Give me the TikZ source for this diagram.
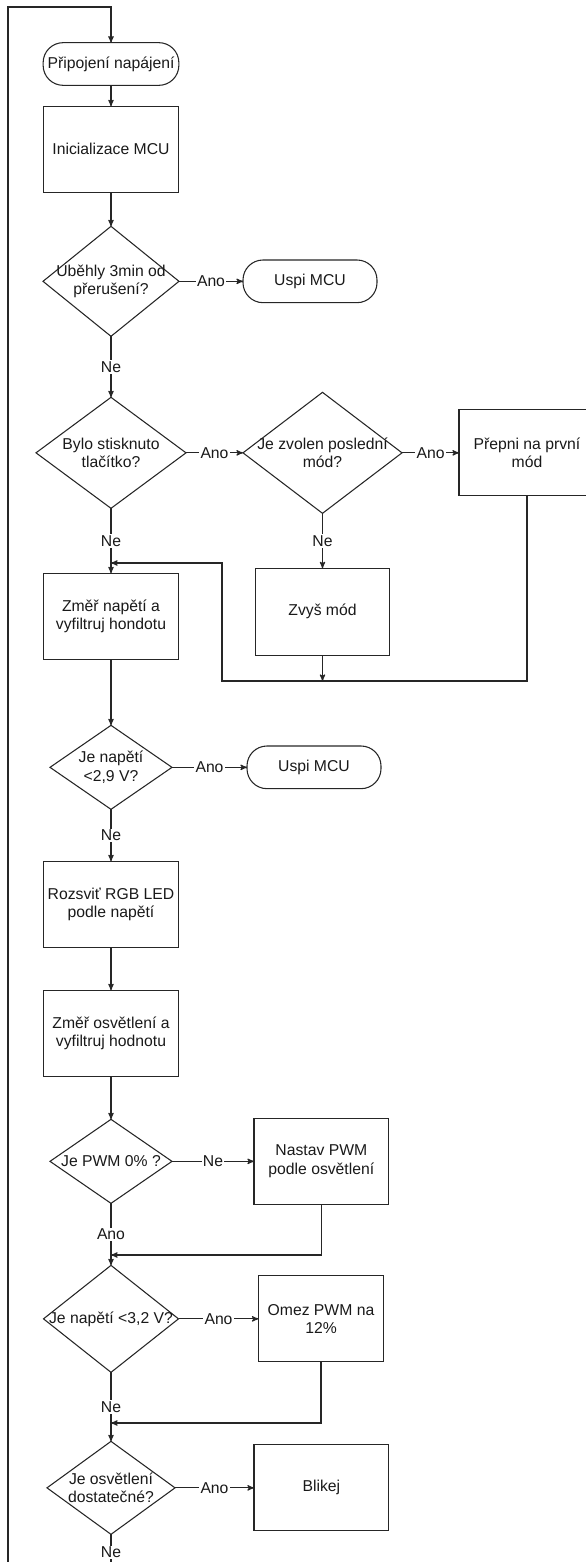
\documentclass[tikz,border=0pt]{standalone}
\usepackage{fontspec}
\setmainfont{Liberation Sans}
\usepackage{tikz}
\usetikzlibrary{arrows}
\usetikzlibrary{positioning,shapes.geometric}
\tikzstyle{terminal} = [rectangle, rounded corners=15pt, minimum width=100.5pt, minimum height=32pt, text centered, outer sep=0pt, draw=black!85]
\tikzstyle{process} = [rectangle, minimum width=101pt, minimum height=64.5pt, text centered, align=center, outer sep=0pt, draw=black!85]
\tikzstyle{decision} = [diamond, inner sep=0pt, outer sep=0pt, draw=black!85]
\tikzstyle{answer} = [fill=white, inner sep=1pt]
\tikzstyle{line} = [draw=black!85, ->, >=stealth']

\begin{document}
\begin{tikzpicture}[x=0.75pt, y=-0.75pt, line width=0.8pt, font=\fontsize{11.8pt}{13.8pt}\selectfont, text=black!90]
\useasboundingbox (0,0) rectangle (585,1562);

% main column
\node (start) [terminal] at (111,64) {Připojení napájení};
\node (init) [process, below=15.75pt of start] {Inicializace MCU};
\node (timeout) [decision, minimum width=102pt, minimum height=82.5pt, below=25.5pt of init,
  label={[align=center]center:{Uběhly 3min od\\přerušení?}}] {};
\node (button) [decision, minimum width=112.5pt, minimum height=83.25pt, below=45.75pt of timeout,
  label={[align=center]center:{Bylo stisknuto\\tlačítko?}}] {};
\node (measV) [process, below=48.75pt of button] {Změř napětí a\\vyfiltruj hondotu};
\node (lowV) [decision, minimum width=91.5pt, minimum height=63pt, below=49.5pt of measV,
  label={[align=center]center:{Je napětí\\<2,9 V?}}] {};
\node (rgb) [process, below=39pt of lowV] {Rozsviť RGB LED\\podle napětí};
\node (measL) [process, below=32.25pt of rgb] {Změř osvětlení a\\vyfiltruj hodnotu};
\node (pwm0) [decision, minimum width=91.5pt, minimum height=63pt, below=32.25pt of measL,
  label={[align=center]center:{Je PWM 0\% ?}}] {};
\node (midV) [decision, minimum width=101.25pt, minimum height=80.25pt, below=46.5pt of pwm0,
  label={[align=center]center:{Je napětí <3,2 V?}}] {};
\node (light) [decision, minimum width=96pt, minimum height=69.75pt, below=51.75pt of midV,
  label={[align=center]center:{Je osvětlení\\dostatečné?}}] {};

% side branches
\node (sleep1) [terminal, right=48pt of timeout] {Uspi MCU};
\node (lastMode) [decision, minimum width=119.25pt, minimum height=90.75pt, right=42.75pt of button,
  label={[align=center]center:{Je zvolen poslední\\mód?}}] {};
\node (firstMode) [process, minimum width=102pt, right=42.75pt of lastMode] {Přepni na první\\mód};
\node (nextMode) [process, minimum height=65.25pt, below=41.25pt of lastMode] {Zvyš mód};
\node (sleep2) [terminal, right=56.25pt of lowV] {Uspi MCU};
\node (setPwm) [process, right=61.5pt of pwm0] {Nastav PWM\\podle osvětlení};
\node (limit) [process, minimum width=93.75pt, right=60pt of midV] {Omez PWM na\\12\%};
\node (blink) [process, right=59.25pt of light] {Blikej};

% helper points
\coordinate (loopTop) at (8,7);
\coordinate (loopBot) at (8,1562);
\coordinate (back1) at (222,681);
\coordinate (back2) at (222,563);
\coordinate (join1) at (measV.north |- back2);
\coordinate (join2) at (midV.north |- 0,1255);
\coordinate (join3) at (light.north |- 0,1423);

% connectors
\draw[line] (loopBot) -- (loopTop) -| (start.north);
\draw[line] (start) -- (init);
\draw[line] (init) -- (timeout);
\draw[line] (timeout) -- node[answer] {Ano} (sleep1);
\draw[line] (timeout) -- node[answer] {Ne} (button);
\draw[line] (button) -- node[answer] {Ano} (lastMode);
\draw[line] (lastMode) -- node[answer] {Ano} (firstMode);
\draw[line] (lastMode) -- node[answer] {Ne} (nextMode);
\draw[line] (nextMode) -- (nextMode |- back1);
\draw[line] (firstMode.south) |- (back1) -- (back2) -- (join1);
\draw[line] (button) -- node[answer] {Ne} (measV);
\draw[line] (measV) -- (lowV);
\draw[line] (lowV) -- node[answer] {Ano} (sleep2);
\draw[line] (lowV) -- node[answer] {Ne} (rgb);
\draw[line] (rgb) -- (measL);
\draw[line] (measL) -- (pwm0);
\draw[line] (pwm0) -- node[answer] {Ne} (setPwm);
\draw[line] (pwm0) -- node[answer] {Ano} (midV);
\draw[line] (setPwm.south) |- (join2);
\draw[line] (midV) -- node[answer] {Ano} (limit);
\draw[line] (midV) -- node[answer] {Ne} (light);
\draw[line] (limit.south) |- (join3);
\draw[line] (light) -- node[answer] {Ano} (blink);
\draw[draw=black!85] (light.south) -- node[answer, pos=0.65] {Ne} (light.south |- loopBot);
\end{tikzpicture}
\end{document}
